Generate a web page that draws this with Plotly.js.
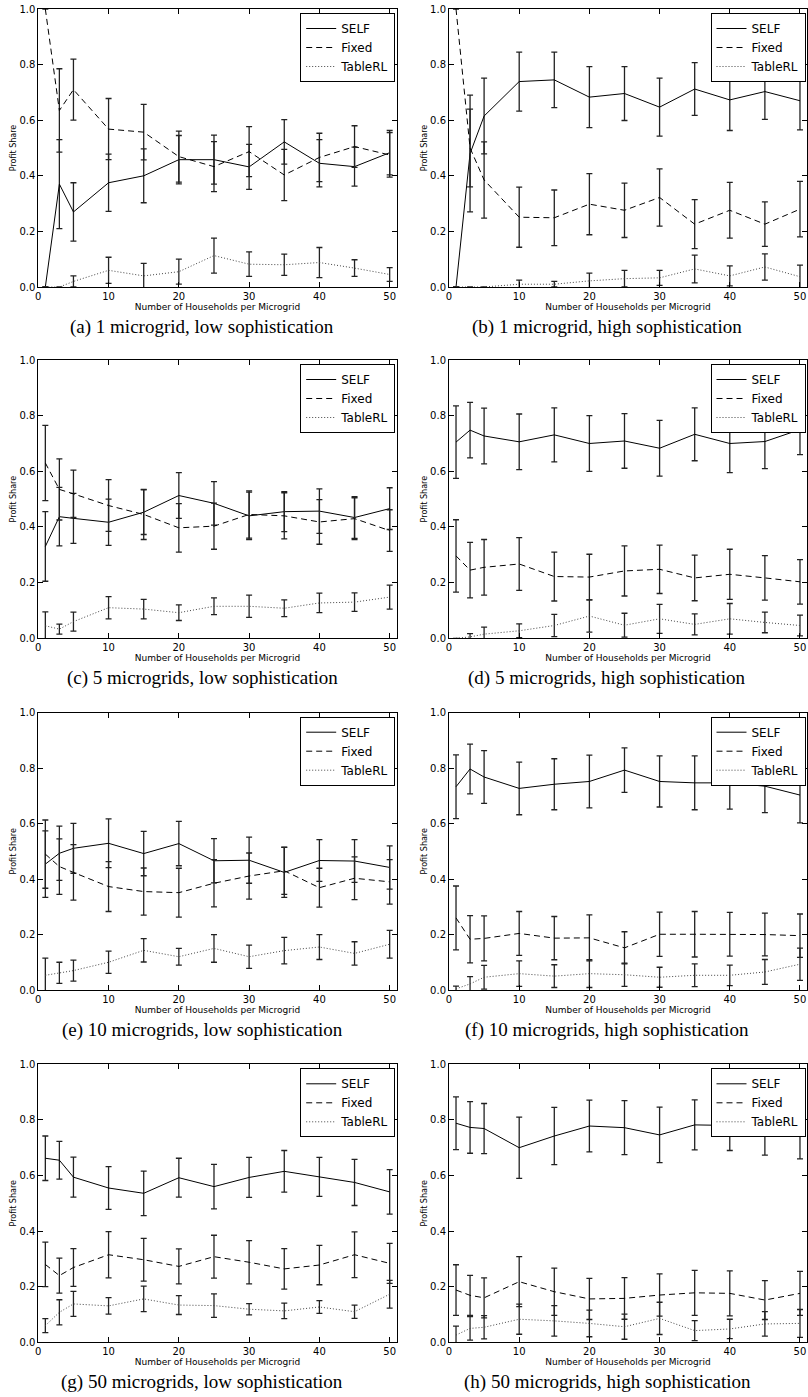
<!DOCTYPE html>
<html><head><meta charset="utf-8">
<script src="https://cdn.plot.ly/plotly-3.0.1.min.js"></script>
<style>html,body{margin:0;padding:0;background:#fff;}#chart{width:808px;height:1397px;}</style>
</head><body><div id="chart"></div>
<script>
// x values: number of households per microgrid
const households = [1, 3, 5, 10, 15, 20, 25, 30, 35, 40, 45, 50];
const seriesNames = ['SELF', 'Fixed', 'TableRL'];
const xTickVals = [0, 10, 20, 30, 40, 50];
const yTickVals = [0, 0.2, 0.4, 0.6, 0.8, 1.0];
const captions = [
  '(a) 1 microgrid, low sophistication',
  '(b) 1 microgrid, high sophistication',
  '(c) 5 microgrids, low sophistication',
  '(d) 5 microgrids, high sophistication',
  '(e) 10 microgrids, low sophistication',
  '(f) 10 microgrids, high sophistication',
  '(g) 50 microgrids, low sophistication',
  '(h) 50 microgrids, high sophistication'
];

// (a) 1 microgrid, low sophistication
const selfA = [0.00, 0.37, 0.27, 0.375, 0.40, 0.458, 0.458, 0.432, 0.522, 0.445, 0.433, 0.483];
const selfAErr = [0.00, 0.16, 0.105, 0.103, 0.097, 0.087, 0.088, 0.081, 0.08, 0.085, 0.07, 0.08];
const fixedA = [1.00, 0.635, 0.71, 0.568, 0.557, 0.469, 0.433, 0.487, 0.403, 0.466, 0.505, 0.475];
const fixedAErr = [0.00, 0.15, 0.11, 0.11, 0.10, 0.092, 0.09, 0.09, 0.092, 0.087, 0.075, 0.08];
const tableA = [0.00, 0.00, 0.02, 0.06, 0.04, 0.055, 0.113, 0.082, 0.08, 0.088, 0.068, 0.045];
const tableAErr = [0.00, 0.00, 0.02, 0.047, 0.045, 0.045, 0.063, 0.044, 0.038, 0.054, 0.03, 0.025];

// (b) 1 microgrid, high sophistication
const selfB = [0.00, 0.48, 0.615, 0.739, 0.745, 0.683, 0.696, 0.647, 0.712, 0.673, 0.703, 0.67];
const selfBErr = [0.00, 0.21, 0.136, 0.106, 0.10, 0.11, 0.097, 0.104, 0.095, 0.11, 0.10, 0.105];
const fixedB = [1.00, 0.50, 0.385, 0.251, 0.249, 0.298, 0.276, 0.322, 0.226, 0.276, 0.226, 0.28];
const fixedBErr = [0.00, 0.14, 0.137, 0.108, 0.10, 0.11, 0.098, 0.103, 0.088, 0.10, 0.08, 0.10];
const tableB = [0.00, 0.00, 0.00, 0.01, 0.01, 0.022, 0.03, 0.033, 0.065, 0.04, 0.072, 0.037];
const tableBErr = [0.00, 0.00, 0.00, 0.015, 0.01, 0.028, 0.03, 0.027, 0.05, 0.036, 0.047, 0.042];

// (c) 5 microgrids, low sophistication
const selfC = [0.33, 0.437, 0.431, 0.417, 0.453, 0.513, 0.485, 0.44, 0.455, 0.457, 0.434, 0.466];
const selfCErr = [0.125, 0.105, 0.09, 0.083, 0.08, 0.082, 0.078, 0.085, 0.072, 0.08, 0.075, 0.075];
const fixedC = [0.63, 0.535, 0.519, 0.477, 0.445, 0.397, 0.403, 0.445, 0.44, 0.418, 0.43, 0.387];
const fixedCErr = [0.135, 0.11, 0.085, 0.093, 0.09, 0.087, 0.083, 0.085, 0.083, 0.08, 0.075, 0.075];
const tableC = [0.045, 0.033, 0.06, 0.11, 0.105, 0.092, 0.115, 0.115, 0.108, 0.127, 0.13, 0.148];
const tableCErr = [0.05, 0.018, 0.034, 0.04, 0.035, 0.028, 0.03, 0.04, 0.03, 0.035, 0.033, 0.043];

// (d) 5 microgrids, high sophistication
const selfD = [0.705, 0.748, 0.727, 0.706, 0.731, 0.70, 0.709, 0.683, 0.733, 0.70, 0.707, 0.75];
const selfDErr = [0.13, 0.10, 0.10, 0.10, 0.097, 0.10, 0.098, 0.10, 0.095, 0.105, 0.097, 0.09];
const fixedD = [0.296, 0.245, 0.255, 0.267, 0.222, 0.22, 0.242, 0.248, 0.217, 0.23, 0.217, 0.203];
const fixedDErr = [0.13, 0.10, 0.10, 0.095, 0.088, 0.082, 0.09, 0.087, 0.082, 0.09, 0.08, 0.08];
const tableD = [0.00, 0.005, 0.015, 0.027, 0.046, 0.08, 0.047, 0.07, 0.05, 0.07, 0.057, 0.046];
const tableDErr = [0.00, 0.012, 0.025, 0.025, 0.04, 0.058, 0.043, 0.052, 0.038, 0.055, 0.037, 0.037];

// (e) 10 microgrids, low sophistication
const selfE = [0.454, 0.493, 0.511, 0.529, 0.492, 0.528, 0.466, 0.468, 0.424, 0.467, 0.465, 0.442];
const selfEErr = [0.12, 0.098, 0.09, 0.088, 0.08, 0.08, 0.08, 0.083, 0.09, 0.075, 0.077, 0.078];
const fixedE = [0.49, 0.445, 0.424, 0.373, 0.355, 0.351, 0.385, 0.411, 0.43, 0.369, 0.403, 0.39];
const fixedEErr = [0.123, 0.10, 0.10, 0.09, 0.085, 0.088, 0.085, 0.083, 0.085, 0.07, 0.077, 0.08];
const tableE = [0.053, 0.062, 0.07, 0.10, 0.143, 0.12, 0.15, 0.12, 0.142, 0.155, 0.132, 0.165];
const tableEErr = [0.062, 0.038, 0.038, 0.04, 0.042, 0.03, 0.05, 0.042, 0.048, 0.045, 0.042, 0.05];

// (f) 10 microgrids, high sophistication
const selfF = [0.733, 0.797, 0.768, 0.727, 0.742, 0.752, 0.793, 0.752, 0.747, 0.747, 0.735, 0.703];
const selfFErr = [0.115, 0.09, 0.095, 0.095, 0.092, 0.095, 0.08, 0.092, 0.097, 0.095, 0.095, 0.10];
const fixedF = [0.26, 0.183, 0.186, 0.204, 0.187, 0.188, 0.152, 0.201, 0.201, 0.201, 0.20, 0.196];
const fixedFErr = [0.115, 0.085, 0.081, 0.079, 0.078, 0.083, 0.058, 0.08, 0.082, 0.079, 0.077, 0.078];
const tableF = [0.004, 0.022, 0.046, 0.059, 0.05, 0.059, 0.055, 0.046, 0.053, 0.053, 0.065, 0.093];
const tableFErr = [0.01, 0.026, 0.043, 0.046, 0.041, 0.05, 0.042, 0.036, 0.041, 0.037, 0.045, 0.058];

// (g) 50 microgrids, low sophistication
const selfG = [0.662, 0.655, 0.594, 0.555, 0.536, 0.592, 0.56, 0.593, 0.615, 0.595, 0.575, 0.541];
const selfGErr = [0.08, 0.068, 0.072, 0.077, 0.08, 0.07, 0.08, 0.072, 0.075, 0.07, 0.083, 0.08];
const fixedG = [0.28, 0.24, 0.269, 0.315, 0.297, 0.273, 0.308, 0.288, 0.264, 0.278, 0.315, 0.284];
const fixedGErr = [0.08, 0.063, 0.068, 0.083, 0.077, 0.063, 0.077, 0.078, 0.073, 0.071, 0.082, 0.072];
const tableG = [0.06, 0.108, 0.138, 0.131, 0.156, 0.134, 0.132, 0.119, 0.113, 0.127, 0.11, 0.173];
const tableGErr = [0.025, 0.045, 0.045, 0.03, 0.046, 0.034, 0.042, 0.02, 0.028, 0.023, 0.024, 0.05];

// (h) 50 microgrids, high sophistication
const selfH = [0.788, 0.773, 0.769, 0.70, 0.742, 0.778, 0.772, 0.746, 0.782, 0.78, 0.765, 0.758];
const selfHErr = [0.095, 0.093, 0.09, 0.11, 0.103, 0.093, 0.097, 0.10, 0.09, 0.09, 0.092, 0.098];
const fixedH = [0.188, 0.169, 0.16, 0.218, 0.182, 0.156, 0.158, 0.17, 0.178, 0.176, 0.152, 0.176];
const fixedHErr = [0.091, 0.072, 0.072, 0.09, 0.085, 0.074, 0.075, 0.076, 0.081, 0.081, 0.07, 0.079];
const tableH = [0.026, 0.05, 0.054, 0.083, 0.077, 0.068, 0.056, 0.086, 0.042, 0.048, 0.066, 0.068];
const tableHErr = [0.032, 0.042, 0.042, 0.054, 0.055, 0.048, 0.045, 0.058, 0.036, 0.035, 0.044, 0.05];

const panels = [
  [[selfA, selfAErr], [fixedA, fixedAErr], [tableA, tableAErr]],
  [[selfB, selfBErr], [fixedB, fixedBErr], [tableB, tableBErr]],
  [[selfC, selfCErr], [fixedC, fixedCErr], [tableC, tableCErr]],
  [[selfD, selfDErr], [fixedD, fixedDErr], [tableD, tableDErr]],
  [[selfE, selfEErr], [fixedE, fixedEErr], [tableE, tableEErr]],
  [[selfF, selfFErr], [fixedF, fixedFErr], [tableF, tableFErr]],
  [[selfG, selfGErr], [fixedG, fixedGErr], [tableG, tableGErr]],
  [[selfH, selfHErr], [fixedH, fixedHErr], [tableH, tableHErr]]
];

// ---- layout geometry (pixels) ----
const W = 808, H = 1397;
const cols = [[38.3, 396.7], [449, 807]];
const rows = [[9, 287], [360, 638.3], [712.7, 990], [1064.3, 1342.3]];
const captionX = [202, 607];
const lineStyles = [
  {color: '#000', width: 1, dash: 'solid'},
  {color: '#000', width: 1, dash: '6px,4px'},
  {color: '#444', width: 1, dash: '1px,2px'}
];
const font = 'DejaVu Sans, Liberation Sans, sans-serif';

const traces = [];
const layout = {
  width: W, height: H,
  margin: {l: 0, r: 0, t: 0, b: 0},
  paper_bgcolor: '#fff', plot_bgcolor: '#fff',
  showlegend: true,
  annotations: []
};

panels.forEach((panel, i) => {
  const c = i % 2, r = Math.floor(i / 2);
  const sfx = i === 0 ? '' : String(i + 1);
  const legendName = 'legend' + sfx;
  panel.forEach((s, k) => {
    traces.push({
      type: 'scatter', mode: 'lines',
      x: households, y: s[0],
      name: seriesNames[k],
      xaxis: 'x' + sfx, yaxis: 'y' + sfx,
      legend: legendName,
      line: lineStyles[k],
      error_y: {type: 'data', array: s[1], visible: true, color: '#222', thickness: 1.3, width: 3},
      hoverinfo: 'skip'
    });
  });
  const common = {
    showline: true, linecolor: '#000', linewidth: 1, mirror: 'ticks',
    ticks: 'inside', ticklen: 5, tickwidth: 1, tickcolor: '#000',
    showgrid: false, zeroline: false, fixedrange: true, automargin: false,
    tickfont: {family: font, size: 10, color: '#000'}
  };
  layout['xaxis' + sfx] = Object.assign({}, common, {
    domain: [cols[c][0] / W, cols[c][1] / W],
    anchor: 'y' + sfx,
    range: [0, 51],
    tickmode: 'array', tickvals: xTickVals, ticktext: xTickVals.map(String),
    title: {text: 'Number of Households per Microgrid', font: {family: font, size: 9, color: '#000'}, standoff: 2}
  });
  layout['yaxis' + sfx] = Object.assign({}, common, {
    domain: [1 - rows[r][1] / H, 1 - rows[r][0] / H],
    anchor: 'x' + sfx,
    range: [0, 1],
    tickmode: 'array', tickvals: yTickVals, ticktext: yTickVals.map(v => v.toFixed(1)),
    title: {text: 'Profit Share', font: {family: font, size: 8, color: '#000'}, standoff: 1}
  });
  layout[legendName] = {
    x: (cols[c][1] - 1.5) / W, xanchor: 'right',
    y: 1 - (rows[r][0] + 4) / H, yanchor: 'top',
    bgcolor: '#fff', bordercolor: '#000', borderwidth: 1,
    font: {family: font, size: 12, color: '#000'},
    tracegroupgap: 0, traceorder: 'normal', itemwidth: 30
  };
  layout.annotations.push({
    xref: 'paper', yref: 'paper',
    x: captionX[c] / W, y: 1 - (rows[r][1] + 40) / H,
    xanchor: 'center', yanchor: 'middle',
    text: captions[i], showarrow: false,
    font: {family: 'Liberation Serif, Times New Roman, serif', size: 19, color: '#000'}
  });
});

Plotly.newPlot('chart', traces, layout, {displayModeBar: false, staticPlot: true});
</script>
</body></html>
